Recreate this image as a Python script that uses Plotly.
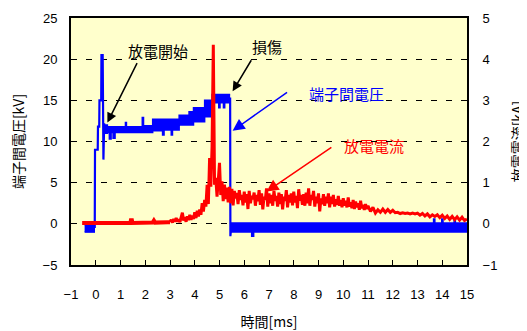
import plotly.graph_objects as go

# ---------------- data ----------------
# Voltage transitions (kV): rise at discharge start, collapse at damage
volt_line_t = [-0.04, -0.03, 0.08, 0.09, 0.14, 0.15, 0.22, 0.23, 0.28, 0.30, 0.31, 0.34, 0.36, 0.40,
               None, 5.40, 5.43, 5.44, 5.47]
volt_line_v = [-0.5, 9.0, 9.0, 11.8, 11.8, 15.0, 15.0, 20.5, 20.5, 7.8, 7.8, 12.2, 11.3, 11.5,
               None, 15.2, 15.2, -1.5, -0.5]

# Voltage band envelopes (kV), step-wise
band0_t = [-0.45, -0.03]
band0_hi = [-0.1, -0.1]
band0_lo = [-1.0, -1.0]

band1_t = [0.34, 0.47, 0.55, 0.62, 0.70, 0.78, 1.20, 1.24, 1.88, 1.93, 2.30, 2.70, 2.76,
           3.05, 3.10, 3.37, 3.77, 3.95, 4.40, 4.70, 4.97, 5.02, 5.16, 5.21, 5.43]
band1_hi = [12.0, 11.8, 11.8, 11.8, 11.8, 11.8, 12.3, 11.8, 12.9, 11.9, 12.7, 12.7, 12.7,
            12.7, 12.7, 13.2, 13.6, 14.1, 15.0, 15.7, 15.7, 15.7, 15.7, 15.7, 15.7]
band1_lo = [11.0, 11.1, 10.3, 11.1, 10.4, 11.1, 11.1, 11.1, 11.1, 11.1, 11.3, 10.8, 11.4,
            10.8, 11.4, 12.0, 12.0, 12.4, 13.0, 14.7, 14.1, 14.7, 14.1, 14.7, 14.7]

band2_t = [5.43, 6.30, 6.38, 13.65, 13.70, 13.98, 14.03, 14.48, 14.53, 15.0]
band2_hi = [0.1, 0.1, 0.1, 0.6, 0.1, 0.6, 0.1, 0.6, 0.1, 0.1]
band2_lo = [-1.0, -1.5, -1.0, -1.0, -1.0, -1.0, -1.0, -1.0, -1.0, -1.0]

# Discharge current (kA)
curr_base_t = [-0.55, 1.40, 1.42, 1.46, 1.48, 2.30, 2.35, 2.40, 2.90, 3.00]
curr_base_v = [0.02, 0.02, 0.09, 0.09, 0.02, 0.03, 0.08, 0.03, 0.04, 0.04]

curr_fast_start = 3.0
curr_fast_dt = 0.05
curr_fast_v = [
    0.04, 0.10, 0.03, 0.12, 0.05, 0.14, 0.06, 0.11, 0.04, 0.13,
    0.27, 0.08, 0.16, 0.05, 0.18, 0.09, 0.22, 0.10, 0.20, 0.12,
    0.28, 0.14, 0.32, 0.18, 0.35, 0.22, 0.50, 0.30, 0.58, 0.42,
    0.95, 0.48, 1.60, 0.90, 1.88, 4.35, 0.95, 1.12, 0.66, 1.05,
    1.48, 0.70, 1.03, 0.55, 0.95, 0.60, 0.88, 0.52, 0.90, 0.50,
    0.85, 0.45, 0.80, 0.62, 0.75, 0.48, 0.82, 0.58, 0.70, 0.45,
    0.78, 0.52, 0.72, 0.36, 0.80, 0.50, 0.68, 0.60, 0.76, 0.44,
    0.70, 0.55, 0.82, 0.46, 0.74, 0.35, 0.66, 0.58, 0.86, 0.42,
    0.74, 0.50, 0.70, 0.44, 0.80, 0.56, 0.68, 0.42, 0.76, 0.48,
    0.72, 0.35, 0.66, 0.56, 0.82, 0.40, 0.70, 0.52, 0.74, 0.45,
    0.78, 0.52, 0.68, 0.38, 0.84, 0.56, 0.70, 0.46, 0.72, 0.44,
    0.76, 0.50, 0.86, 0.44, 0.70, 0.58, 0.80, 0.42, 0.66, 0.50,
    0.74, 0.30, 0.62, 0.48, 0.72, 0.44, 0.66, 0.50, 0.74, 0.40,
    0.66, 0.48, 0.70, 0.42, 0.60, 0.46, 0.68, 0.44, 0.58, 0.40,
    0.62, 0.44, 0.56, 0.40, 0.64, 0.42, 0.52, 0.38, 0.58, 0.36,
    0.54, 0.40, 0.50, 0.34, 0.56, 0.38, 0.46, 0.34, 0.48, 0.36,
]
curr_slow_start = 11.0
curr_slow_dt = 0.1
curr_slow_v = [
    0.44, 0.30, 0.40, 0.26, 0.34, 0.28, 0.36, 0.28, 0.35, 0.28,
    0.33, 0.27, 0.28, 0.25, 0.27, 0.25, 0.26, 0.24, 0.26, 0.24,
    0.26, 0.21, 0.25, 0.19, 0.24, 0.17, 0.22, 0.18, 0.22, 0.15,
    0.21, 0.13, 0.19, 0.11, 0.18, 0.10, 0.17, 0.09, 0.16, 0.08,
    0.12,
]

x_ticks = list(range(-1, 16))
y_left_ticks = [-5, 0, 5, 10, 15, 20, 25]
y_right_ticks = [-1, 0, 1, 2, 3, 4, 5]

# sample time grids
curr_fast_t = [round(curr_fast_start + curr_fast_dt * i, 3) for i in range(len(curr_fast_v))]
curr_slow_t = [round(curr_slow_start + curr_slow_dt * i, 3) for i in range(len(curr_slow_v))]

BLUE = "#0000FF"
RED = "#FF0000"
FONT = "Liberation Sans, Arial, Noto Sans CJK JP, sans-serif"
JFONT = "Noto Sans CJK JP, sans-serif"

fig = go.Figure()

for bt, lo, hi in [(band0_t, band0_lo, band0_hi), (band1_t, band1_lo, band1_hi), (band2_t, band2_lo, band2_hi)]:
    fig.add_trace(go.Scatter(x=bt, y=lo, mode="lines", line=dict(color=BLUE, width=1.5, shape="hv"),
                             showlegend=False, hoverinfo="skip"))
    fig.add_trace(go.Scatter(x=bt, y=hi, mode="lines", line=dict(color=BLUE, width=1.5, shape="hv"),
                             fill="tonexty", fillcolor=BLUE, showlegend=False, hoverinfo="skip"))

fig.add_trace(go.Scatter(x=volt_line_t, y=volt_line_v, mode="lines",
                         line=dict(color=BLUE, width=2.2), showlegend=False))

fig.add_trace(go.Scatter(x=curr_base_t, y=curr_base_v, mode="lines", yaxis="y2",
                         line=dict(color=RED, width=4), showlegend=False))
fig.add_trace(go.Scatter(x=curr_fast_t + curr_slow_t, y=curr_fast_v + curr_slow_v, mode="lines", yaxis="y2",
                         line=dict(color=RED, width=3), showlegend=False))

# annotations: texts
texts = [
    dict(x=2.51, y=21.1, text="放電開始", color="#000000"),
    dict(x=6.92, y=21.5, text="損傷", color="#000000"),
    dict(x=10.12, y=15.8, text="端子間電圧", color=BLUE),
    dict(x=11.23, y=9.5, text="放電電流", color=RED),
]
for t in texts:
    fig.add_annotation(x=t["x"], y=t["y"], xref="x", yref="y", text=t["text"], showarrow=False,
                       font=dict(family=JFONT, size=15, color=t["color"]))

# arrows
arrows = [
    dict(x=0.47, y=12.3, ax=1.70, ay=19.7, color="#000000", yref="y", size=1.3),
    dict(x=5.53, y=16.1, ax=6.32, ay=20.05, color="#000000", yref="y", size=1.3),
    dict(x=5.53, y=11.3, ax=7.79, ay=16.1, color=BLUE, yref="y", size=1.6),
    dict(x=6.90, y=0.785, ax=9.58, ay=1.88, color=RED, yref="y2", size=1.6),
]
for a in arrows:
    fig.add_annotation(x=a["x"], y=a["y"], ax=a["ax"], ay=a["ay"], xref="x", yref=a["yref"],
                       axref="x", ayref=a["yref"], text="", showarrow=True,
                       arrowhead=2, arrowsize=a["size"], arrowwidth=1.5, arrowcolor=a["color"])

# the page body has an 8px margin, so the figure is sized/offset to fit the 527x331 window
fig.update_layout(
    width=519, height=323,
    margin=dict(l=63, r=60, t=10, b=66, autoexpand=False),
    paper_bgcolor="white",
    plot_bgcolor="#FFFFCC",
    font=dict(family=FONT, size=13, color="black"),
    xaxis=dict(range=[-1, 15], tickvals=x_ticks, ticks="inside", ticklen=5, tickwidth=1,
               tickcolor="black", showline=True, linewidth=2, linecolor="black", mirror=True,
               showgrid=False, zeroline=False, ticklabelstandoff=16, automargin=False,
               tickfont=dict(family=FONT, size=13),
               title=dict(text="時間[ms]", font=dict(family=JFONT, size=14), standoff=18)),
    yaxis=dict(range=[-5, 25], tickvals=y_left_ticks, ticks="", showline=True, linewidth=2,
               linecolor="black", mirror=True, showgrid=True, gridcolor="black", gridwidth=1,
               griddash="6px,9px", zeroline=False, ticklabelstandoff=9, automargin=False,
               tickfont=dict(family=FONT, size=13),
               title=dict(text="端子間電圧[kV]", font=dict(family=JFONT, size=14), standoff=15)),
    yaxis2=dict(range=[-1, 5], tickvals=y_right_ticks, overlaying="y", side="right", ticks="",
                showline=True, linewidth=2, linecolor="black", showgrid=False, zeroline=False,
                ticklabelstandoff=11, automargin=False, tickfont=dict(family=FONT, size=13),
                title=dict(text="放電電流[kA]", font=dict(family=JFONT, size=14), standoff=20)),
)

fig.write_html("out.html")
